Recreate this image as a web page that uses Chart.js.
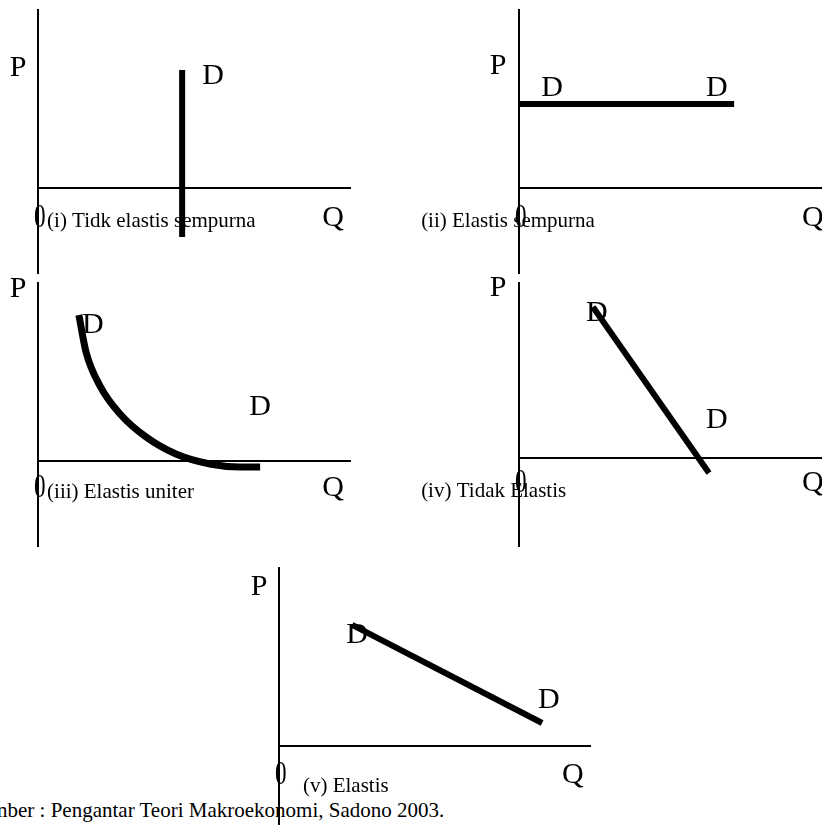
<!DOCTYPE html>
<html>
<head>
<meta charset="utf-8">
<script src="https://cdn.jsdelivr.net/npm/chart.js@4/dist/chart.umd.min.js"></script>
<style>
  html, body { margin: 0; padding: 0; background: #fff; }
  #page { position: relative; width: 822px; height: 825px; overflow: hidden; background: #fff; }
  #page canvas { position: absolute; left: 0; top: 0; }
  #sumber { position: absolute; left: -31px; top: 800px; font: 21px 'Liberation Serif', 'Times New Roman', serif; line-height: 21px; white-space: nowrap; color: #000; }
</style>
</head>
<body>
<div id="page">
  <div id="sumber"></div>
  <canvas id="c1" width="822" height="825"></canvas>
  <canvas id="c2" width="822" height="825"></canvas>
  <canvas id="c3" width="822" height="825"></canvas>
  <canvas id="c4" width="822" height="825"></canvas>
  <canvas id="c5" width="822" height="825"></canvas>
</div>
<script>
// kurva permintaan (Q = jumlah, P = harga)
// (i) tidak elastis sempurna
const q1 = [4.62, 4.62];
const p1 = [6.63, -2.75];
// (ii) elastis sempurna
const q2 = [0, 7.1];
const p2 = [4.72, 4.72];
// (iii) elastis uniter
const q3 = [1.31, 1.54, 1.99, 2.63, 3.46, 4.42, 5.51, 6.47, 7.12];
const p3 = [8.20, 6.12, 4.21, 2.64, 1.35, 0.39, -0.17, -0.34, -0.34];
// (iv) tidak elastis
const q4 = [2.44, 6.27];
const p4 = [8.63, -0.86];
// (v) elastis
const q5 = [2.35, 8.46];
const p5 = [6.80, 1.29];

const captions = ['(i) Tidk elastis sempurna', '(ii) Elastis sempurna', '(iii) Elastis uniter', '(iv) Tidak Elastis', '(v) Elastis'];
const sumber = 'Sumber : Pengantar Teori Makroekonomi, Sadono 2003.';

const SERIF = "'Liberation Serif', 'Times New Roman', serif";
const BIG = '30px ' + SERIF, SMALL = '21px ' + SERIF, ZERO = '34px ' + SERIF;

document.getElementById('sumber').textContent = sumber;

// teks digambar dulu, sumbu & garis di atasnya
const labelPlugin = {
  id: 'panelLabels',
  beforeDraw(chart, args, opts) {
    const {ctx, scales: {x, y}} = chart;
    ctx.save();
    ctx.fillStyle = '#000';
    ctx.textBaseline = 'middle';
    for (const l of opts.items || []) {
      ctx.font = l.font;
      ctx.textAlign = l.align || 'center';
      const px = x.getPixelForValue(l.x), py = y.getPixelForValue(l.y);
      if (l.sx) {
        ctx.save(); ctx.translate(px, py); ctx.scale(l.sx, 1);
        ctx.fillText(l.text, 0, 0); ctx.restore();
      } else ctx.fillText(l.text, px, py);
    }
    ctx.restore();
  }
};

function axisLabels(pPos, zeroY, qPos, capPos, caption) {
  return [
    {text: 'P', x: pPos[0], y: pPos[1], font: BIG},
    {text: '0', x: 0.06, y: zeroY, font: ZERO, sx: 0.68},
    {text: 'Q', x: qPos, y: zeroY, font: BIG},
    {text: caption, x: capPos[0], y: capPos[1], font: SMALL, align: 'left'}
  ];
}

function panel(id, q, p, width, pad, yMin, labels) {
  new Chart(document.getElementById(id), {
    type: 'line',
    data: { datasets: [{
      data: q.map((v, i) => ({x: v, y: p[i]})),
      borderColor: '#000', borderWidth: width, pointRadius: 0,
      cubicInterpolationMode: q.length > 2 ? 'monotone' : 'default', fill: false
    }] },
    options: {
      responsive: false, animation: false, events: [],
      layout: { padding: pad },
      plugins: { legend: {display: false}, tooltip: {enabled: false}, panelLabels: {items: labels} },
      scales: {
        x: { type: 'linear', min: 0, max: 10, position: {y: 0},
             grid: {drawOnChartArea: false, drawTicks: false}, ticks: {display: false},
             border: {display: true, color: '#000', width: 2} },
        y: { type: 'linear', min: yMin, max: 10, position: {x: 0},
             grid: {drawOnChartArea: false, drawTicks: false}, ticks: {display: false},
             border: {display: true, color: '#000', width: 2} }
      }
    },
    plugins: [labelPlugin]
  });
}

panel('c1', q1, p1, 6, {left: 38, top: 10, right: 472, bottom: 552}, -4.78, [
  {text: 'D', x: 5.61, y: 6.3, font: BIG},
  ...axisLabels([-0.64, 6.74], -1.69, 9.46, [0.29, -1.9], captions[0])
]);
panel('c2', q2, p2, 6, {left: 519, top: 10, right: 0, bottom: 552}, -4.78, [
  {text: 'D', x: 1.09, y: 5.62, font: BIG},
  {text: 'D', x: 6.53, y: 5.62, font: BIG},
  ...axisLabels([-0.69, 6.85], -1.69, 9.7, [-3.23, -1.9], captions[1])
]);
panel('c3', q3, p3, 7, {left: 38, top: 283, right: 472, bottom: 279}, -4.78, [
  {text: 'D', x: 1.76, y: 7.64, font: BIG},
  {text: 'D', x: 7.12, y: 3.03, font: BIG},
  ...axisLabels([-0.64, 9.66], -1.52, 9.46, [0.29, -1.75], captions[2])
]);
panel('c4', q4, p4, 6, {left: 519, top: 283, right: 0, bottom: 279}, -5.03, [
  {text: 'D', x: 2.57, y: 8.29, font: BIG},
  {text: 'D', x: 6.53, y: 2.17, font: BIG},
  ...axisLabels([-0.69, 9.71], -1.45, 9.7, [-3.23, -1.94], captions[3])
]);
panel('c5', q5, p5, 6, {left: 279, top: 568, right: 232, bottom: 0}, -4.44, [
  {text: 'D', x: 2.51, y: 6.24, font: BIG},
  {text: 'D', x: 8.68, y: 2.58, font: BIG},
  ...axisLabels([-0.64, 8.93], -1.63, 9.45, [0.77, -2.3], captions[4])
]);
</script>
</body>
</html>
